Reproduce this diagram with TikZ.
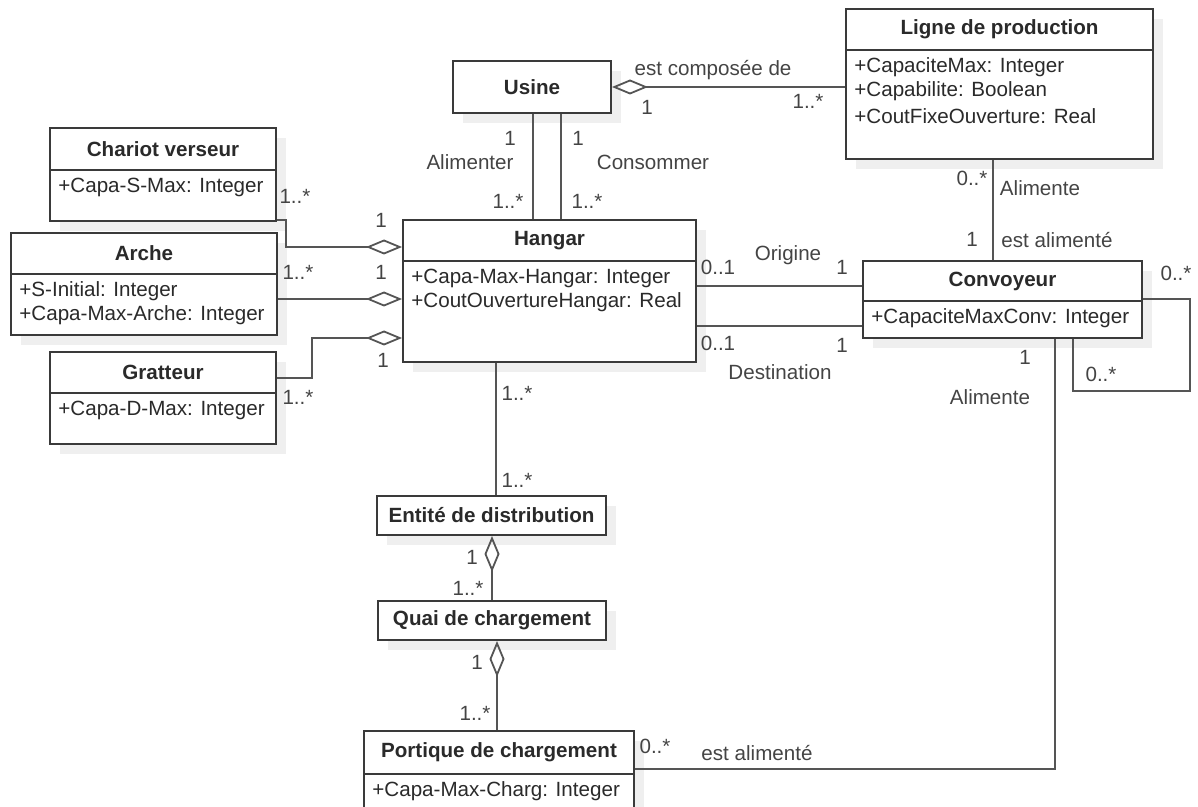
\documentclass[tikz,border=0pt]{standalone}
\usepackage{fontspec}
\setmainfont{Liberation Sans}
\usetikzlibrary{arrows.meta}
\definecolor{ln}{HTML}{555555}
\definecolor{bx}{HTML}{3A3A3A}
\definecolor{tx}{HTML}{2A2A2A}
\definecolor{lt}{HTML}{444444}
\definecolor{sh}{HTML}{EFEFEF}
\newcommand\umlclass[8]{%
  \fill[sh] (#2+10,#3+10) rectangle (#4+10,#5+10);
  \node[box, minimum width={0.5*(#4-#2)}, minimum height={0.5*(#5-#3)}] (#1) at ({(#2+#4)/2},{(#3+#5)/2}) {};
  \node[ctitle] (#1-t) at ({(#2+#4)/2},{(#3+#6)/2}) {#7};
  \draw[bx, line width=1pt] (#2,#6) -- (#4,#6);
  \foreach \a [count=\i from 0] in {#8} {\node[attr, anchor=west] (#1-a\i) at (#2+8,#6+17+24.5*\i) {\a};}
}
\newcommand\umlsimple[6]{%
  \fill[sh] (#2+10,#3+10) rectangle (#4+10,#5+10);
  \node[box, minimum width={0.5*(#4-#2)}, minimum height={0.5*(#5-#3)}] (#1) at ({(#2+#4)/2},{(#3+#5)/2}) {};
  \node[ctitle] (#1-t) at ({(#2+#4)/2},{(#3+#5)/2}) {#6};
}
\begin{document}
\begin{tikzpicture}[x=0.5pt,y=-0.5pt,
  box/.style={draw=bx, line width=1pt, fill=white, inner sep=0pt, rectangle},
  ctitle/.style={font=\fontsize{10.3}{12}\selectfont\bfseries, text=tx, inner sep=0pt},
  attr/.style={font=\fontsize{10.3}{12}\selectfont, text=tx, inner sep=0pt},
  lbl/.style={font=\fontsize{10.3}{12}\selectfont, text=lt, inner sep=0pt},
  conn/.style={draw=ln, line width=0.9pt},
  agg/.style={conn, -{Diamond[open, length=18pt, width=7.5pt, line width=0.9pt]}},
]
\useasboundingbox (0,0) rectangle (1198,807);
\clip (0,0) rectangle (1198,807);

% classes
\umlsimple{usine}{453}{61}{611}{113}{Usine}
\umlclass{ligne}{846}{9}{1153}{159}{50}{Ligne de production}{+CapaciteMax: Integer,+Capabilite: Boolean,+CoutFixeOuverture: Real}
\umlclass{chariot}{50}{128}{276}{221}{170}{Chariot verseur}{+Capa-S-Max: Integer}
\umlclass{arche}{11}{233}{277}{335}{274}{Arche}{+S-Initial: Integer,+Capa-Max-Arche: Integer}
\umlclass{gratteur}{50}{352}{276}{444}{393}{Gratteur}{+Capa-D-Max: Integer}
\umlclass{hangar}{403}{220}{696}{362}{261}{Hangar}{+Capa-Max-Hangar: Integer,+CoutOuvertureHangar: Real}
\umlclass{conv}{863}{261}{1142}{338}{301}{Convoyeur}{+CapaciteMaxConv: Integer}
\umlsimple{entite}{377}{496}{606}{535}{Entité de distribution}
\umlsimple{quai}{378}{601}{606}{640}{Quai de chargement}
\umlclass{portique}{364}{731}{634}{830}{774}{Portique de chargement}{+Capa-Max-Charg: Integer}

% connectors
\draw[agg] (ligne.west |- usine.east) -- (usine.east);
\draw[conn] (usine.south -| 533,0) -- (hangar.north -| 533,0);
\draw[conn] (usine.south -| 561,0) -- (hangar.north -| 561,0);
\draw[agg] (chariot.east |- 0,220) -- (286,220) |- (hangar.west |- 0,247);
\draw[agg] (arche.east |- 0,299) -- (hangar.west |- 0,299);
\draw[agg] (gratteur.east |- 0,378) -| (312,338) -- (hangar.west |- 0,338);
\draw[conn] (hangar.east |- 0,286) -- (conv.west |- 0,286);
\draw[conn] (hangar.east |- 0,326) -- (conv.west |- 0,326);
\draw[conn] (ligne.south -| 993,0) -- (conv.north -| 993,0);
\draw[conn] (conv.east |- 0,299) -| (1190,391) -| (conv.south -| 1073,0);
\draw[conn] (conv.south -| 1055,0) |- (portique.east |- 0,769);
\draw[conn] (hangar.south -| 496,0) -- (entite.north -| 496,0);
\draw[agg] (quai.north -| 492,0) -- (entite.south -| 492,0);
\draw[agg] (portique.north -| 497,0) -- (quai.south -| 497,0);

% labels
\node[lbl] (l1) at (713,70) {est composée de};
\node[lbl] (l2) at (647,107) {1};
\node[lbl] (l3) at (808,101) {1..*};
\node[lbl] (l4) at (510,138) {1};
\node[lbl] (l5) at (578,138) {1};
\node[lbl] (l6) at (470,162) {Alimenter};
\node[lbl] (l7) at (653,162) {Consommer};
\node[lbl] (l8) at (508,201) {1..*};
\node[lbl] (l9) at (587,201) {1..*};
\node[lbl] (l10) at (295,196) {1..*};
\node[lbl] (l11) at (381,220) {1};
\node[lbl] (l12) at (298,272) {1..*};
\node[lbl] (l13) at (381,272) {1};
\node[lbl] (l14) at (298,397) {1..*};
\node[lbl] (l15) at (383,360) {1};
\node[lbl] (l16) at (788,255) {Origine};
\node[lbl] (l17) at (718,267) {0..1};
\node[lbl] (l18) at (842,267) {1};
\node[lbl] (l19) at (718,343) {0..1};
\node[lbl] (l20) at (842,345) {1};
\node[lbl] (l21) at (780,372) {Destination};
\node[lbl] (l22) at (972,178) {0..*};
\node[lbl] (l23) at (1040,188) {Alimente};
\node[lbl] (l24) at (972,239) {1};
\node[lbl] (l25) at (1057,240) {est alimenté};
\node[lbl] (l26) at (1176,273) {0..*};
\node[lbl] (l27) at (1101,374) {0..*};
\node[lbl] (l28) at (1025,357) {1};
\node[lbl] (l29) at (990,397) {Alimente};
\node[lbl] (l30) at (517,393) {1..*};
\node[lbl] (l31) at (517,480) {1..*};
\node[lbl] (l32) at (472,557) {1};
\node[lbl] (l33) at (468,588) {1..*};
\node[lbl] (l34) at (477,662) {1};
\node[lbl] (l35) at (475,713) {1..*};
\node[lbl] (l36) at (655,746) {0..*};
\node[lbl] (l37) at (757,753) {est alimenté};
\end{tikzpicture}
\end{document}
